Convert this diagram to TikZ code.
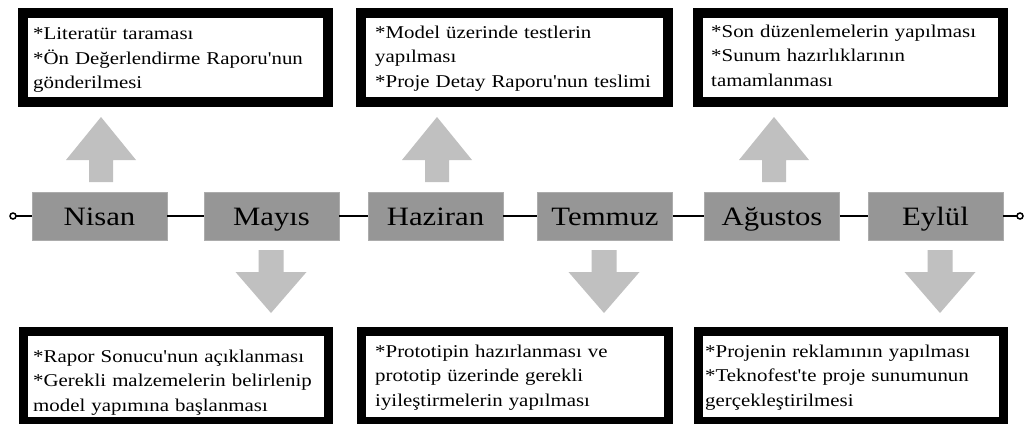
\documentclass[tikz,border=0pt]{standalone}
\usepackage{fontspec}
\newfontfamily\tlfont[FakeStretch=1.16,Ligatures=TeXOff]{Liberation Serif}
\definecolor{monthgray}{RGB}{150,150,150}
\definecolor{monthedge}{RGB}{172,172,172}
\definecolor{arrowgray}{RGB}{192,192,192}
\begin{document}
\begin{tikzpicture}[x=1pt,y=-1pt,
  taskbox/.style={draw=black, line width=10pt, fill=white, inner sep=0pt, minimum height=89pt},
  tasktext/.style={anchor=north west, inner sep=0pt, text width=300pt, align=left,
    font=\tlfont\fontsize{18}{24.5}\selectfont},
  month/.style={fill=monthgray, draw=monthedge, line width=0.8pt, minimum width=135pt,
    minimum height=48pt, inner sep=0pt, text height=18pt, text depth=0pt,
    font=\tlfont\fontsize{26.5}{30}\selectfont},
  tline/.style={draw=black, line width=1.5pt},
  endcirc/.style={draw=black, line width=1.5pt, fill=white},
  uparr/.pic={\fill[arrowgray] (0,0) -- (35,43) -- (12,43) -- (12,65) -- (-12,65) -- (-12,43) -- (-35,43) -- cycle;},
  downarr/.pic={\fill[arrowgray] (-12.5,0) -- (12.5,0) -- (12.5,22) -- (35.5,22) -- (0,63) -- (-35.5,22) -- (-12.5,22) -- cycle;}
]
\useasboundingbox (0,0) rectangle (1024,423);
\fill[white] (0,0) rectangle (1024,423);

% top boxes
\node[taskbox, minimum width=305pt] (top1) at (175.5,57.5) {};
\node[taskbox, minimum width=307pt] (top2) at (514.5,57.5) {};
\node[taskbox, minimum width=305pt] (top3) at (850.5,57.5) {};
\node[tasktext] (top1t) at (33,22.5) {\strut*Literatür taraması\\{}*Ön Değerlendirme Raporu'nun\\{}gönderilmesi};
\node[tasktext] (top2t) at (375,21) {\strut*Model üzerinde testlerin\\{}yapılması\\{}*Proje Detay Raporu'nun teslimi};
\node[tasktext] (top3t) at (711,20) {\strut*Son düzenlemelerin yapılması\\{}*Sunum hazırlıklarının\\{}tamamlanması};

% bottom boxes
\node[taskbox, minimum width=305pt, minimum height=90pt, line width=9pt] (bot1) at (175.5,376.5) {};
\node[taskbox, minimum width=307pt, minimum height=90pt, line width=9pt] (bot2) at (514.5,376.5) {};
\node[taskbox, minimum width=305pt, minimum height=90pt, line width=9pt] (bot3) at (850.5,376.5) {};
\node[tasktext] (bot1t) at (33,345) {\strut*Rapor Sonucu'nun açıklanması\\{}*Gerekli malzemelerin belirlenip\\{}model yapımına başlanması};
\node[tasktext] (bot2t) at (375,340) {\strut*Prototipin hazırlanması ve\\{}prototip üzerinde gerekli\\{}iyileştirmelerin yapılması};
\node[tasktext] (bot3t) at (705,340) {\strut*Projenin reklamının yapılması\\{}*Teknofest'te proje sunumunun\\{}gerçekleştirilmesi};

% timeline
\node[month] (nisan) at (99.5,216) {Nisan};
\node[month] (mayis) at (271.5,216) {Mayıs};
\node[month] (haziran) at (435.5,216) {Haziran};
\node[month] (temmuz) at (605,216) {Temmuz};
\node[month] (agustos) at (772,216) {Ağustos};
\node[month] (eylul) at (935.5,216) {Eylül};
\coordinate (lend) at (13,216);
\coordinate (rend) at (1020,216);
\draw[tline] (lend) -- (nisan);
\draw[tline] (nisan) -- (mayis);
\draw[tline] (mayis) -- (haziran);
\draw[tline] (haziran) -- (temmuz);
\draw[tline] (temmuz) -- (agustos);
\draw[tline] (agustos) -- (eylul);
\draw[tline] (eylul) -- (rend);
\draw[endcirc] (lend) circle (3pt);
\draw[endcirc] (rend) circle (3pt);

% arrows
\pic at (101,117) {uparr};
\pic at (437,117) {uparr};
\pic at (774,117) {uparr};
\pic at (271,250) {downarr};
\pic at (604,250) {downarr};
\pic at (940,250) {downarr};
\end{tikzpicture}
\end{document}
